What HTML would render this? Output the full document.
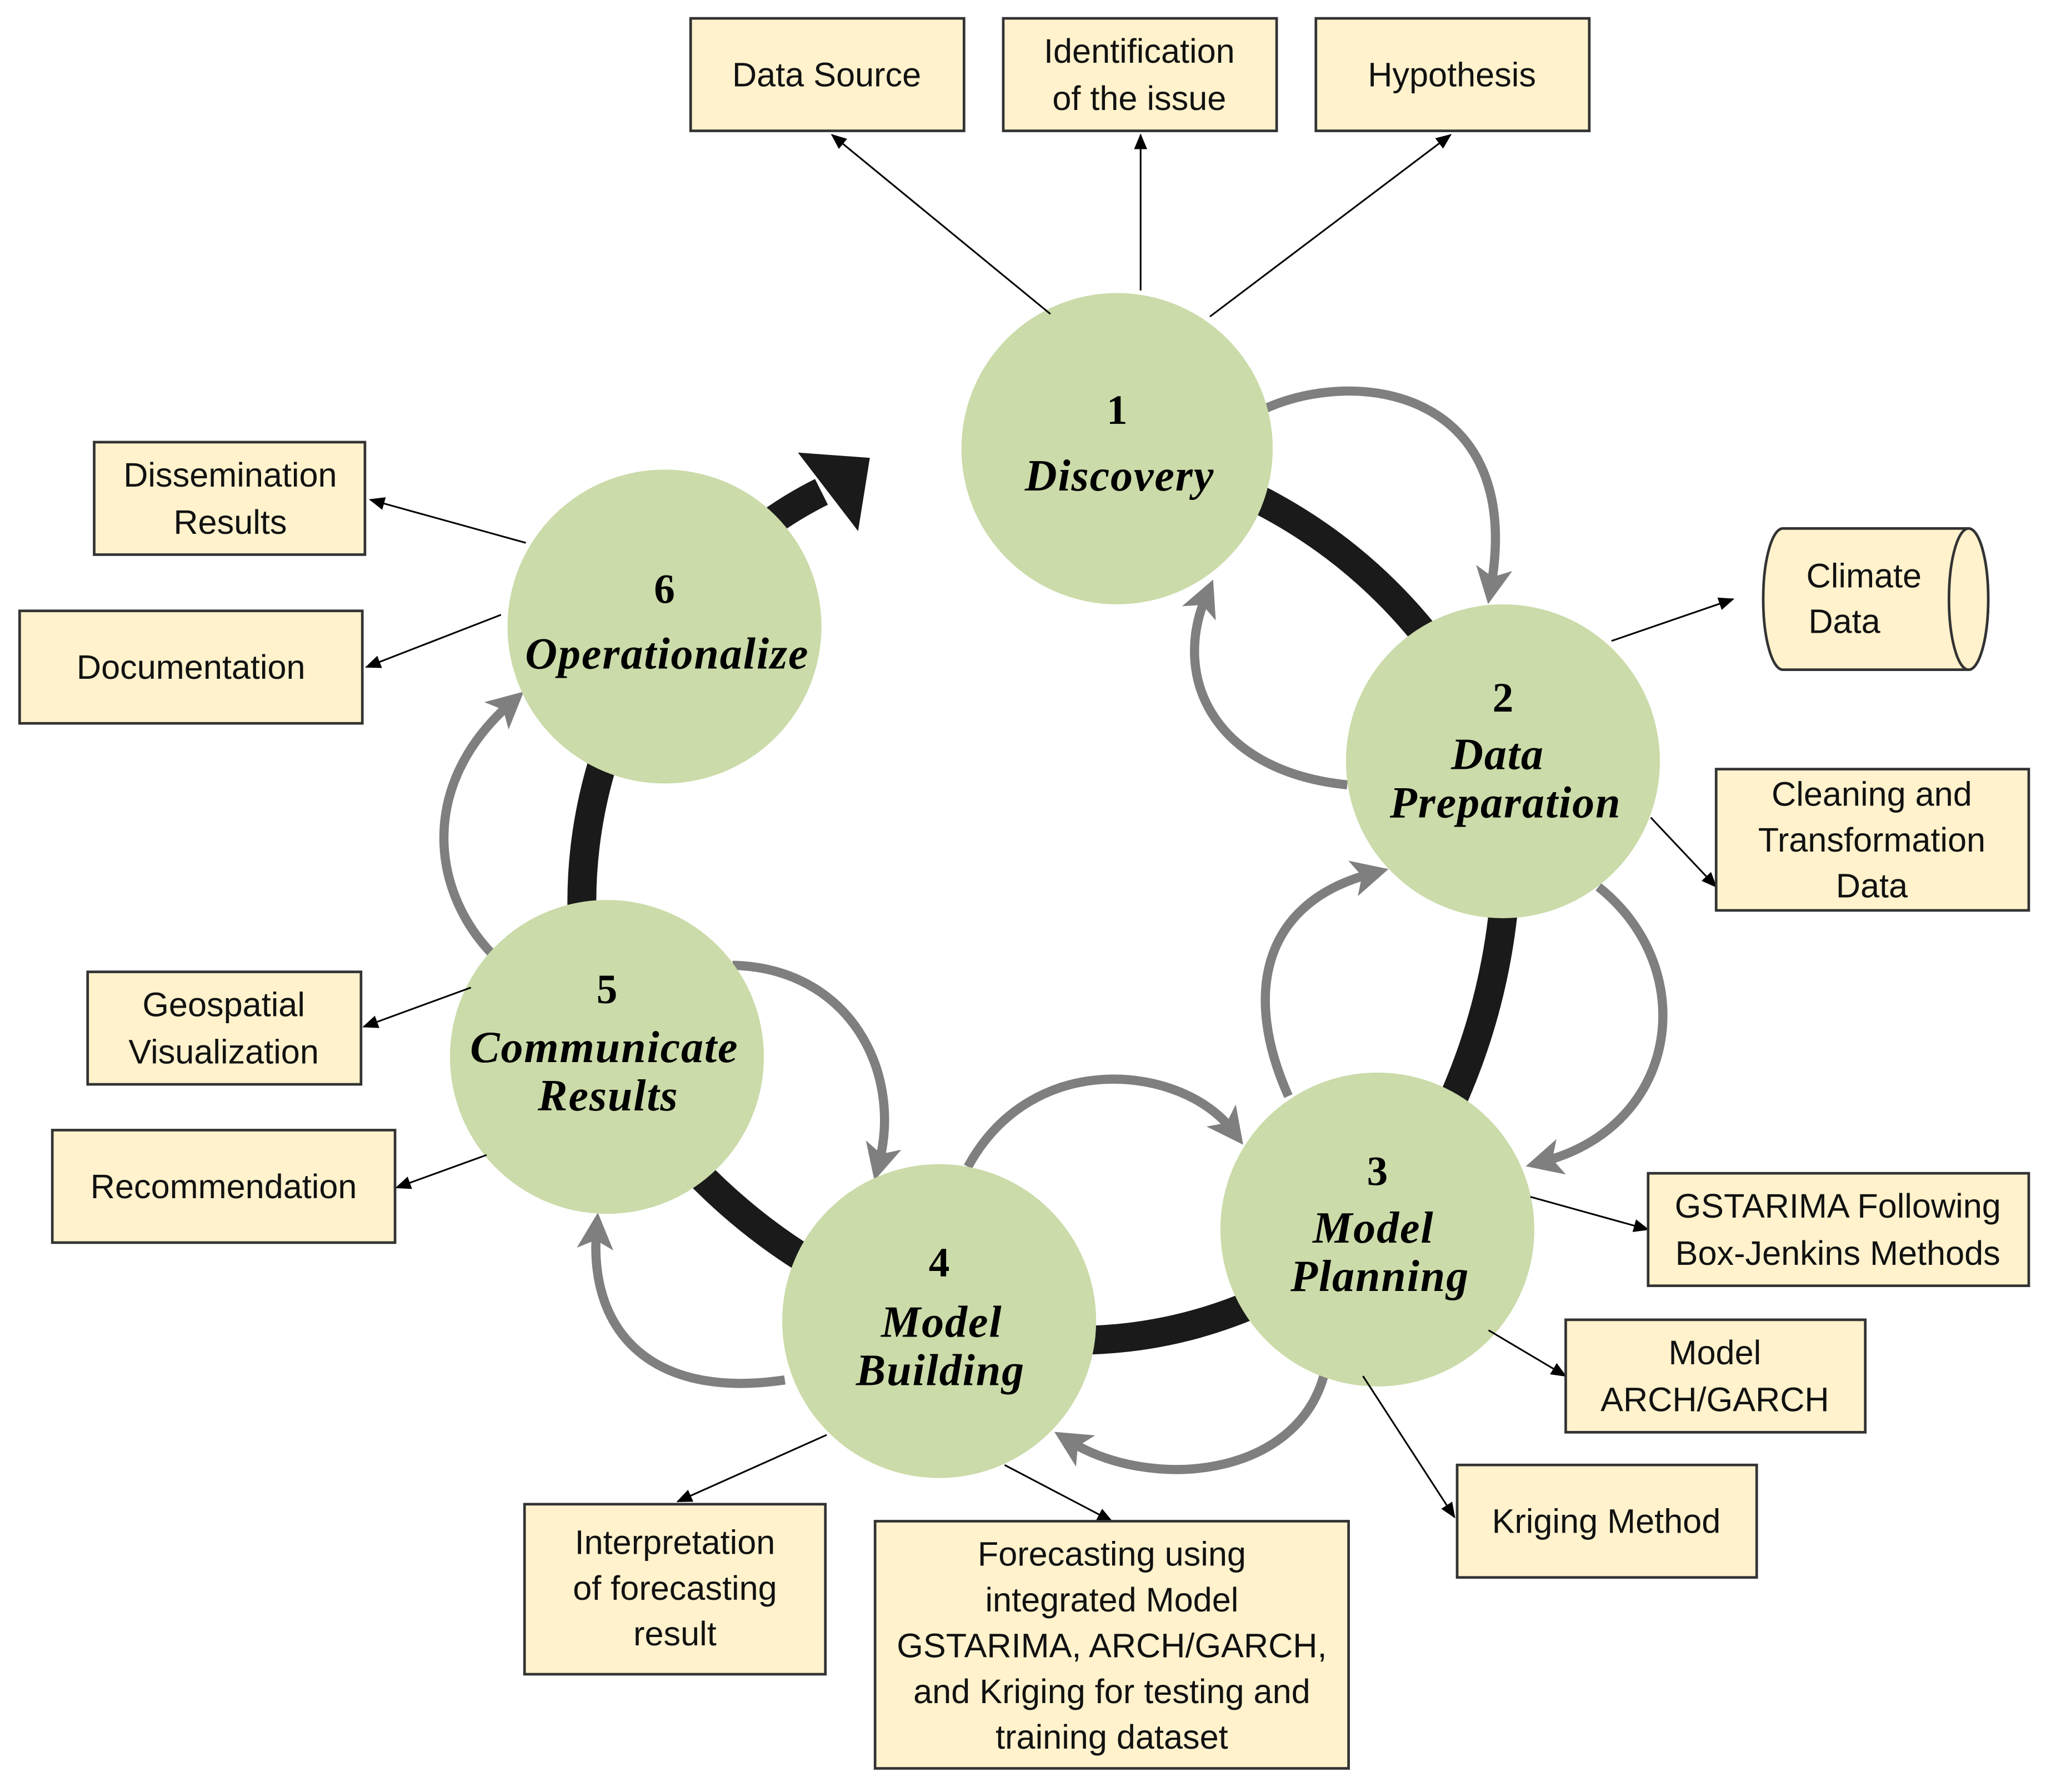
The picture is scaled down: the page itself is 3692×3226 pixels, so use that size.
<!DOCTYPE html>
<html><head><meta charset="utf-8"><style>
html,body{margin:0;padding:0;background:#fff;}
svg{display:block;}
.box{fill:#fff2cc;stroke:#333;stroke-width:2;}
.bt{font-family:"Liberation Sans",sans-serif;font-size:26px;fill:#111;text-anchor:middle;}
.num{font-family:"Liberation Serif",serif;font-weight:bold;font-size:32px;text-anchor:middle;fill:#000;}
.lab{font-family:"Liberation Serif",serif;font-weight:bold;font-style:italic;font-size:34px;letter-spacing:0.8px;text-anchor:middle;fill:#000;}
.thin{stroke:#000;stroke-width:1.3;fill:none;marker-end:url(#sa);}
.gray{stroke:#7f7f7f;stroke-width:7;fill:none;marker-end:url(#ga);}
.circ{fill:#cbdba9;}
</style></head><body>
<svg width="3692" height="3226" viewBox="0 0 1568 1370" xmlns="http://www.w3.org/2000/svg">
<defs>
<marker id="sa" markerWidth="12" markerHeight="10" refX="11" refY="5" orient="auto" markerUnits="userSpaceOnUse"><path d="M0,0 L12,5 L0,10 Z" fill="#000"/></marker>
<marker id="ga" markerWidth="30" markerHeight="30" refX="14" refY="15" orient="auto" markerUnits="userSpaceOnUse"><path d="M0,1 L28,15 L0,29 L7,15 Z" fill="#7f7f7f"/></marker>
</defs>
<rect width="1568" height="1370" fill="#fff"/>
<path d="M854,343 Q1060,390 1149,582 Q1170,780 1053,940 Q900,1060 718,1010 Q560,960 464,808 Q410,640 508,479 Q560,410 628,376" fill="none" stroke="#1a1a1a" stroke-width="22"/>
<polygon points="610,346 665,350 656,406" fill="#1a1a1a"/>
<path class="gray" d="M968,312 C1040,280 1165,300 1140,448"/>
<path class="gray" d="M1030,600 C930,590 895,520 922,456"/>
<path class="gray" d="M1222,678 C1300,740 1285,860 1180,888"/>
<path class="gray" d="M985,838 C950,760 965,690 1048,668"/>
<path class="gray" d="M740,892 C790,800 905,815 942,864"/>
<path class="gray" d="M1012,1052 C990,1130 880,1140 818,1102"/>
<path class="gray" d="M560,738 C650,740 690,820 672,889"/>
<path class="gray" d="M600,1055 C500,1070 450,1020 456,941"/>
<path class="gray" d="M375,728 C330,680 320,600 390,538"/>
<circle class="circ" cx="854" cy="343" r="119"/>
<circle class="circ" cx="1149" cy="582" r="120"/>
<circle class="circ" cx="1053" cy="940" r="120"/>
<circle class="circ" cx="718" cy="1010" r="120"/>
<circle class="circ" cx="464" cy="808" r="120"/>
<circle class="circ" cx="508" cy="479" r="120"/>
<text class="num" x="854" y="324">1</text><text class="lab" x="856" y="375">Discovery</text>
<text class="num" x="1149" y="544">2</text><text class="lab" x="1145" y="588">Data</text><text class="lab" x="1151" y="625">Preparation</text>
<text class="num" x="1053" y="906">3</text><text class="lab" x="1050" y="950">Model</text><text class="lab" x="1055" y="987">Planning</text>
<text class="num" x="718" y="976">4</text><text class="lab" x="720" y="1022">Model</text><text class="lab" x="719" y="1059">Building</text>
<text class="num" x="464" y="767">5</text><text class="lab" x="462" y="812">Communicate</text><text class="lab" x="465" y="849">Results</text>
<text class="num" x="508" y="461">6</text><text class="lab" x="510" y="511">Operationalize</text>
<path class="thin" d="M803,240 L636,103"/>
<path class="thin" d="M872,222 L872,103"/>
<path class="thin" d="M925,242 L1109,103"/>
<path class="thin" d="M402,415 L283,382"/>
<path class="thin" d="M383,470 L280,510"/>
<path class="thin" d="M1232,490 L1325,458"/>
<path class="thin" d="M1262,625 L1312,678"/>
<path class="thin" d="M360,755 L278,785"/>
<path class="thin" d="M372,883 L303,908"/>
<path class="thin" d="M1170,915 L1260,940"/>
<path class="thin" d="M1138,1017 L1197,1052"/>
<path class="thin" d="M1042,1052 L1112,1160"/>
<path class="thin" d="M632,1097 L518,1148"/>
<path class="thin" d="M768,1120 L850,1163"/>
<rect class="box" x="528" y="14" width="209" height="86"/><text class="bt" x="632" y="66">Data Source</text>
<rect class="box" x="767" y="14" width="209" height="86"/><text class="bt" x="871" y="48">Identification</text><text class="bt" x="871" y="84">of the issue</text>
<rect class="box" x="1006" y="14" width="209" height="86"/><text class="bt" x="1110" y="66">Hypothesis</text>
<rect class="box" x="72" y="338" width="207" height="86"/><text class="bt" x="176" y="372">Dissemination</text><text class="bt" x="176" y="408">Results</text>
<rect class="box" x="15" y="467" width="262" height="86"/><text class="bt" x="146" y="519">Documentation</text>
<path class="box" d="M1363,404 L1505,404 A15,54 0 0 1 1505,512 L1363,512 A15,54 0 0 1 1363,404 Z"/>
<ellipse class="box" cx="1505" cy="458" rx="15" ry="54"/>
<text class="bt" x="1425" y="449">Climate</text><text class="bt" x="1410" y="484">Data</text>
<rect class="box" x="1312" y="588" width="239" height="108"/><text class="bt" x="1431" y="616">Cleaning and</text><text class="bt" x="1431" y="651">Transformation</text><text class="bt" x="1431" y="686">Data</text>
<rect class="box" x="67" y="743" width="209" height="86"/><text class="bt" x="171" y="777">Geospatial</text><text class="bt" x="171" y="813">Visualization</text>
<rect class="box" x="40" y="864" width="262" height="86"/><text class="bt" x="171" y="916">Recommendation</text>
<rect class="box" x="1260" y="897" width="291" height="86"/><text class="bt" x="1405" y="931">GSTARIMA Following</text><text class="bt" x="1405" y="967">Box-Jenkins Methods</text>
<rect class="box" x="1197" y="1009" width="229" height="86"/><text class="bt" x="1311" y="1043">Model</text><text class="bt" x="1311" y="1079">ARCH/GARCH</text>
<rect class="box" x="1114" y="1120" width="229" height="86"/><text class="bt" x="1228" y="1172">Kriging Method</text>
<rect class="box" x="401" y="1150" width="230" height="130"/><text class="bt" x="516" y="1188">Interpretation</text><text class="bt" x="516" y="1223">of forecasting</text><text class="bt" x="516" y="1258">result</text>
<rect class="box" x="669" y="1163" width="362" height="189"/><text class="bt" x="850" y="1197">Forecasting using</text><text class="bt" x="850" y="1232">integrated Model</text><text class="bt" x="850" y="1267">GSTARIMA, ARCH/GARCH,</text><text class="bt" x="850" y="1302">and Kriging for testing and</text><text class="bt" x="850" y="1337">training dataset</text>
</svg>
</body></html>
